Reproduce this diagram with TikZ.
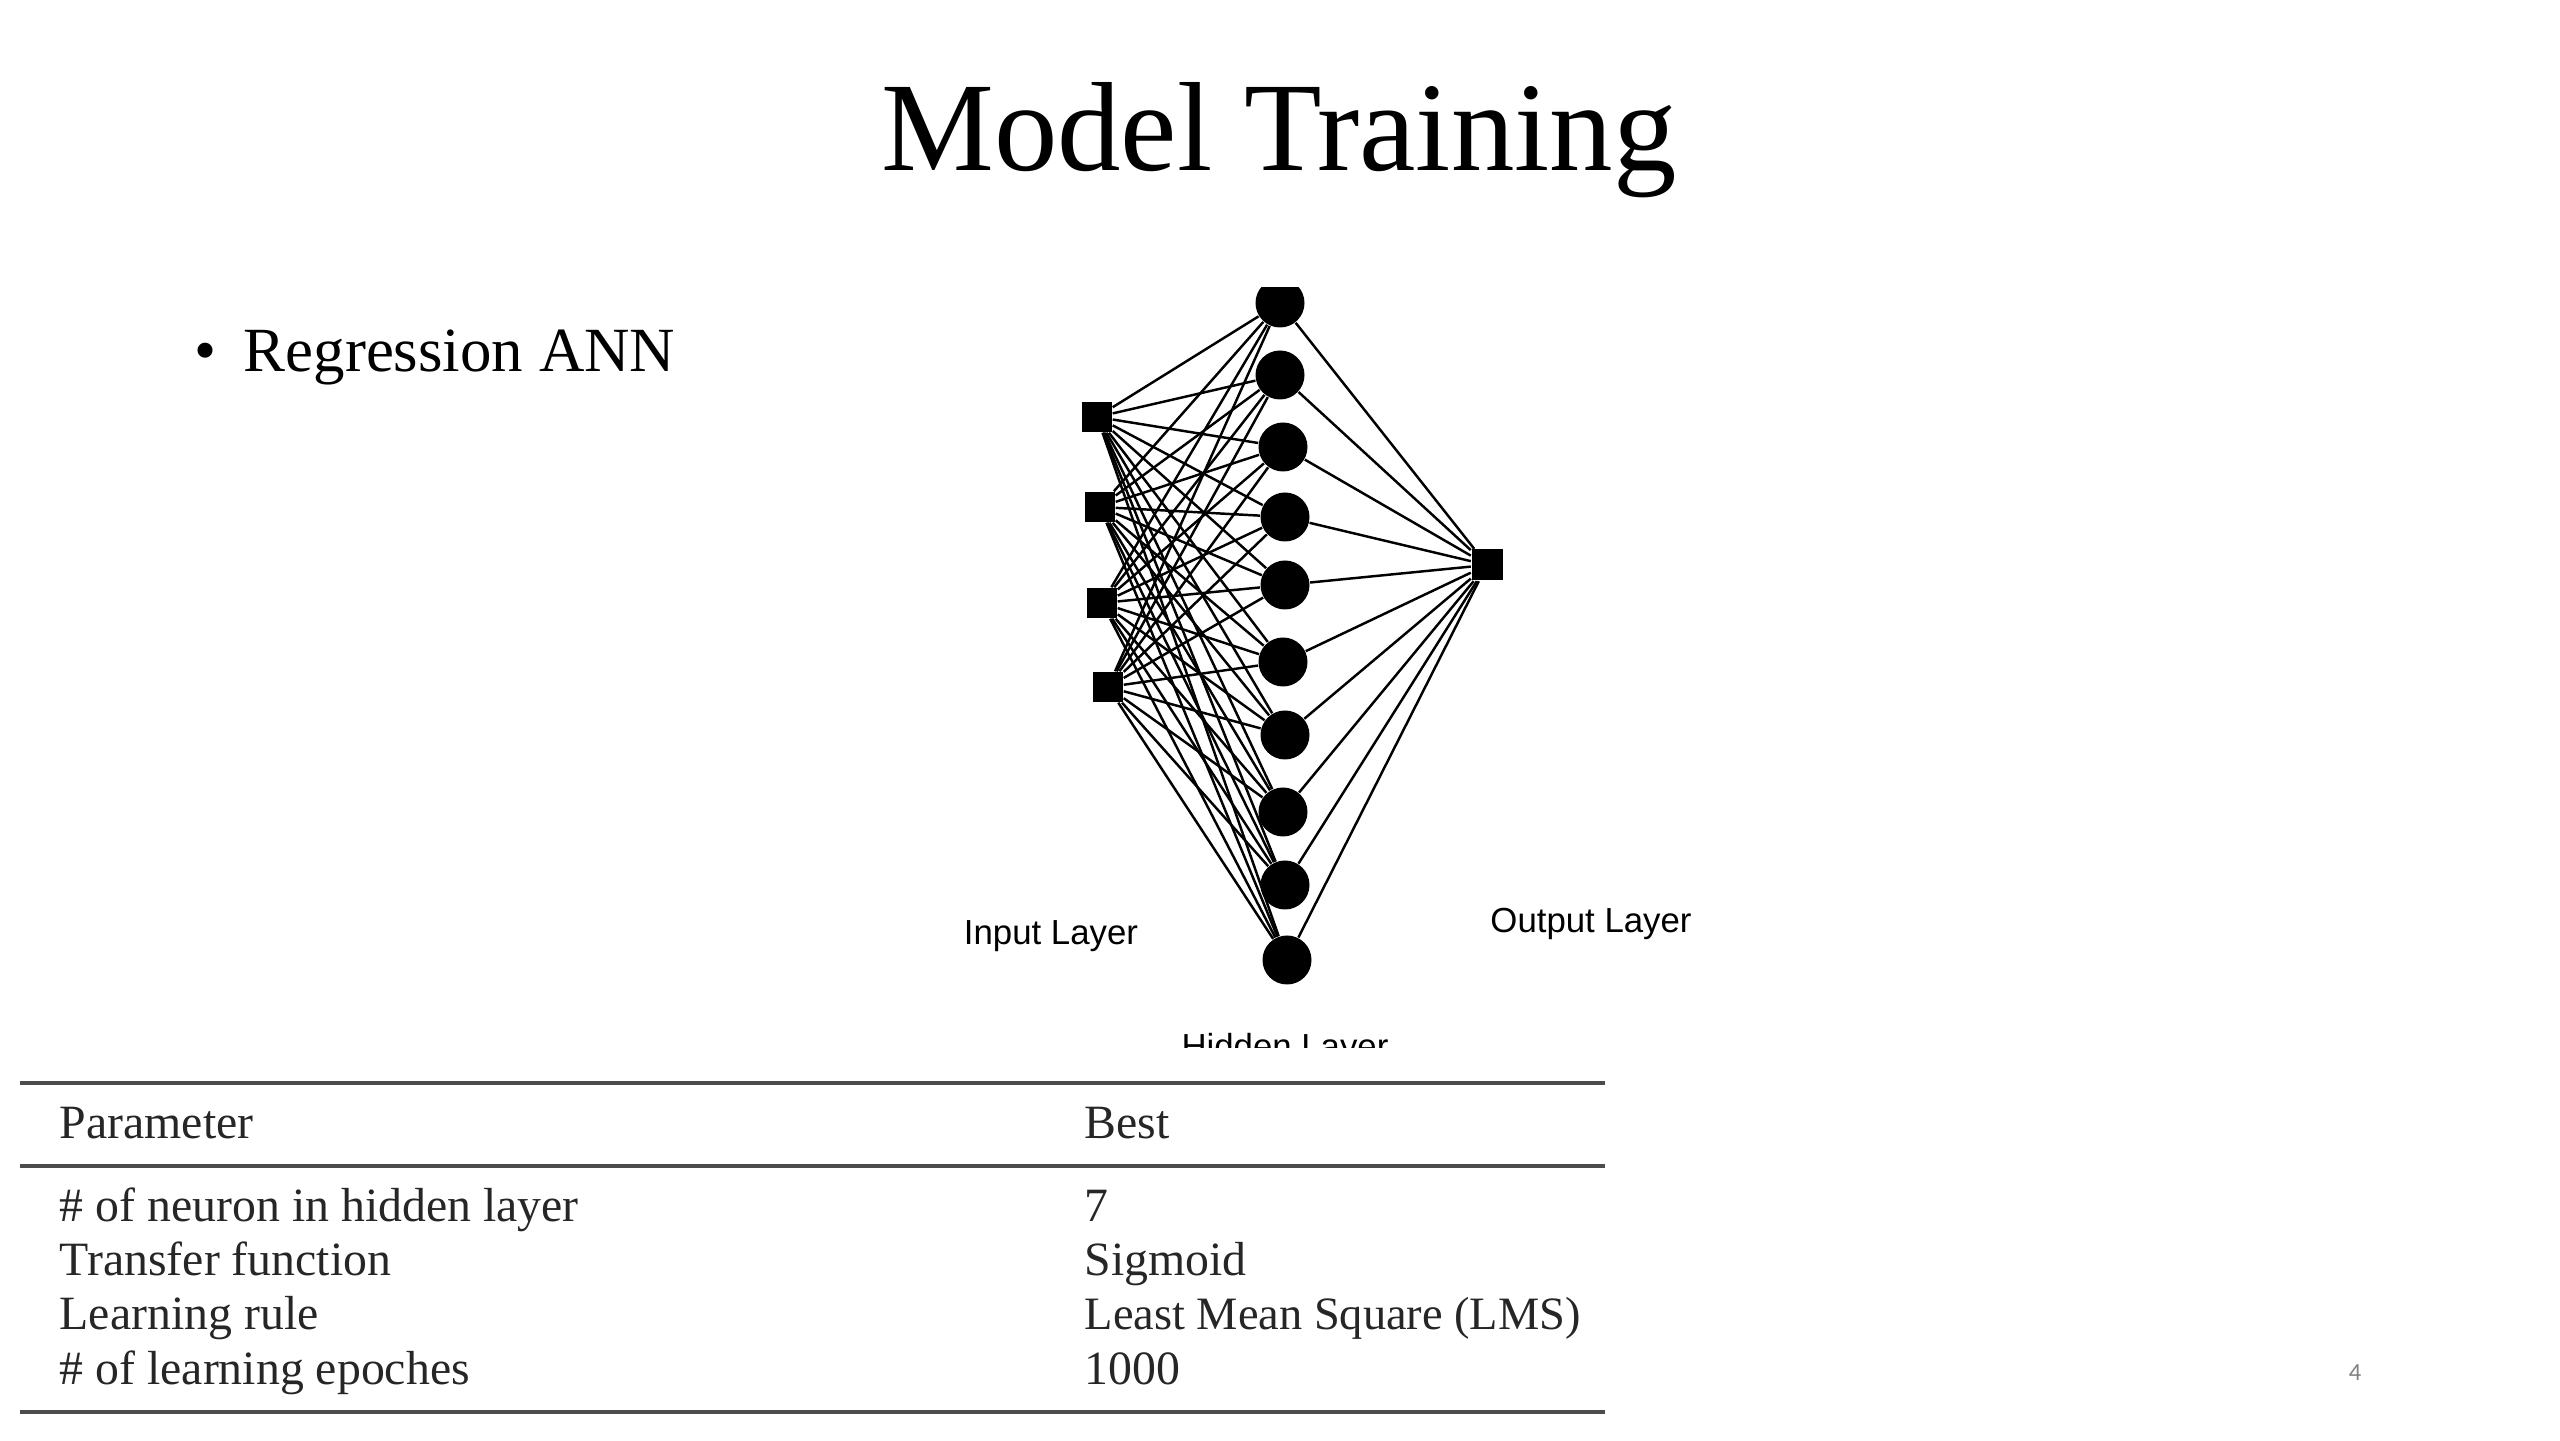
\documentclass[tikz,border=0pt]{standalone}
\usepackage{fontspec}
\setmainfont{Liberation Serif}
\newfontfamily\labelfont{Liberation Sans}
\newfontfamily\pagefont{Carlito}

\begin{document}
\begin{tikzpicture}
	\useasboundingbox (0,0) rectangle (25.6,14.4);
	
	\tikzstyle{inunit}=[fill=black,shape=rectangle,minimum size=0.30cm,inner sep=0pt]
	
	\tikzstyle{hidunit}=[fill=black,shape=circle,minimum size=0.49cm,inner sep=0pt]
	
	\tikzstyle{edge}=[line width=0.7pt]
	\tikzstyle{layer}=[font=\labelfont\fontsize{9.9}{12}\selectfont]
	\tikzstyle{cell}=[anchor=base west,inner sep=0pt,font=\fontsize{13.6}{16}\selectfont,text=black!85]
	\tikzstyle{rule}=[line width=0.9pt,black!70]
	
	\node[anchor=base,font=\fontsize{36.1}{40}\selectfont](title) at (12.79,12.69){Model Training};
	
	\node[anchor=base,inner sep=0pt,font=\fontsize{17.9}{21}\selectfont](bullet) at (2.06,10.68){\textbullet};
	\node[anchor=base west,inner sep=0pt,font=\fontsize{17.9}{21}\selectfont](annText) at (2.43,10.68){Regression ANN};
	
	\begin{scope}
	\clip (9.4,3.92) rectangle (17.2,11.52);
	
	\node[inunit](in1) at (10.97,10.23){};
	\node[inunit](in2) at (11.00,9.33){};
	\node[inunit](in3) at (11.02,8.37){};
	\node[inunit](in4) at (11.08,7.53){};
	
	\node[hidunit](hid1) at (12.80,11.37){};
	\node[hidunit](hid2) at (12.80,10.65){};
	\node[hidunit](hid3) at (12.83,9.93){};
	\node[hidunit](hid4) at (12.85,9.23){};
	\node[hidunit](hid5) at (12.85,8.55){};
	\node[hidunit](hid6) at (12.83,7.78){};
	\node[hidunit](hid7) at (12.85,7.05){};
	\node[hidunit](hid8) at (12.83,6.28){};
	\node[hidunit](hid9) at (12.85,5.55){};
	\node[hidunit](hid10) at (12.87,4.80){};
	
	\node[inunit,minimum size=0.31cm](out) at (14.87,8.75){};
	
	\foreach \i in {1,...,4}
		\foreach \j in {1,...,10}
			\draw[edge] (in\i) -- (hid\j);
	
	\foreach \j in {1,...,10}
		\draw[edge] (hid\j) -- (out);
	
	\node[layer](inLabel) at (10.51,5.04){Input Layer};
	\node[layer](outLabel) at (15.91,5.16){Output Layer};
	\node[layer](hidLabel) at (12.85,3.90){Hidden Layer};
	\end{scope}
	
	% table
	\coordinate (ruleTopL) at (0.20,3.57);
	\coordinate (ruleTopR) at (16.05,3.57);
	\coordinate (ruleMidL) at (0.20,2.74);
	\coordinate (ruleMidR) at (16.05,2.74);
	\coordinate (ruleBotL) at (0.20,0.28);
	\coordinate (ruleBotR) at (16.05,0.28);
	\draw[rule] (ruleTopL) -- (ruleTopR);
	\draw[rule] (ruleMidL) -- (ruleMidR);
	\draw[rule] (ruleBotL) -- (ruleBotR);
	
	\node[cell](paramHead) at (0.59,3.02){Parameter};
	\node[cell](bestHead) at (10.84,3.02){Best};
	
	\node[cell](paramA) at (0.59,2.18){\# of neuron in hidden layer};
	\node[cell](paramB) at (0.59,1.64){Transfer function};
	\node[cell](paramC) at (0.59,1.10){Learning rule};
	\node[cell](paramD) at (0.59,0.56){\# of learning epoches};
	
	\node[cell](bestA) at (10.84,2.18){7};
	\node[cell](bestB) at (10.84,1.64){Sigmoid};
	\node[cell,font=\fontsize{13.2}{16}\selectfont](bestC) at (10.84,1.10){Least Mean Square (LMS)};
	\node[cell](bestD) at (10.84,0.56){1000};
	
	\node[font=\pagefont\fontsize{7}{8}\selectfont,text=black!50](pageNum) at (23.55,0.67){4};
	
\end{tikzpicture}
\end{document}
